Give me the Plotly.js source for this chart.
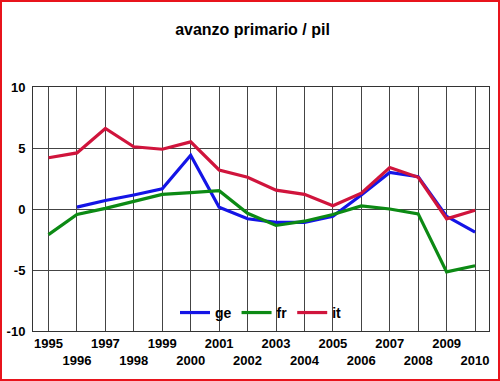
<!DOCTYPE html>
<html>
<head>
<meta charset="utf-8">
<script src="https://cdn.plot.ly/plotly-3.0.1.min.js"></script>
<style>
html,body{margin:0;padding:0;background:#fff;}
#wrap{position:relative;width:500px;height:381px;}
#chart{width:500px;height:381px;}
#frame{position:absolute;left:0;top:0;width:500px;height:381px;box-sizing:border-box;border:2px solid #e8141c;pointer-events:none;}
</style>
</head>
<body>
<div id="wrap"><div id="chart"></div><div id="frame"></div></div>
<script>
const years = [1995,1996,1997,1998,1999,2000,2001,2002,2003,2004,2005,2006,2007,2008,2009,2010];
const ge = [null,0.15,0.7,1.15,1.65,4.4,0.15,-0.8,-1.1,-1.1,-0.6,1.15,3.0,2.65,-0.6,-1.9];
const fr = [-2.1,-0.45,0.05,0.65,1.2,1.35,1.5,-0.35,-1.35,-1.0,-0.45,0.25,0.0,-0.4,-5.15,-4.65];
const it = [4.2,4.6,6.6,5.1,4.9,5.5,3.2,2.6,1.55,1.2,0.27,1.3,3.4,2.6,-0.8,-0.1];
const yTicks = [10,5,0,-5,-10];
const xLabels = years.map((y,i)=> i%2===0 ? String(y) : '<br>'+y);

const lw = 3.2;
const traces = [
  {x:years, y:ge, name:'ge', mode:'lines', line:{color:'#1414e6', width:lw}},
  {x:years, y:fr, name:'fr', mode:'lines', line:{color:'#0c8a14', width:lw}},
  {x:years, y:it, name:'it', mode:'lines', line:{color:'#d0143c', width:lw}}
];
const font = {family:'Liberation Sans, Arial, sans-serif', size:13, color:'#000', weight:'bold'};
const layout = {
  width:500, height:381,
  margin:{l:33, r:11, t:87, b:50},
  paper_bgcolor:'#fff', plot_bgcolor:'#fff',
  title:{text:'<b>avanzo primario / pil</b>', font:{family:'Liberation Sans, Arial, sans-serif', size:16, color:'#000'}, x:0.505, xanchor:'center', y:1-29/381, yanchor:'middle', yref:'container'},
  font:font,
  showlegend:true,
  legend:{orientation:'h', x:0.5, xanchor:'center', y:0.074, yanchor:'middle', bgcolor:'rgba(0,0,0,0)', font:{family:'Liberation Sans, Arial, sans-serif', size:14, color:'#000', weight:'bold'}, itemwidth:30, tracegroupgap:0},
  xaxis:{range:[1994.455,2010.49], tickvals:years, ticktext:xLabels, showgrid:true, gridcolor:'#444', gridwidth:1, zeroline:false, showline:true, mirror:true, linecolor:'#333', linewidth:1, ticks:'', tickfont:font, tickangle:0, fixedrange:true},
  yaxis:{range:[-10,10], tickvals:yTicks, ticktext:yTicks.map(String), showgrid:true, gridcolor:'#444', gridwidth:1, zeroline:false, showline:true, mirror:true, linecolor:'#333', linewidth:1, ticks:'', tickfont:font, ticklabelstandoff:4, fixedrange:true}
};
Plotly.newPlot('chart', traces, layout, {displayModeBar:false, staticPlot:true});
</script>
</body>
</html>
